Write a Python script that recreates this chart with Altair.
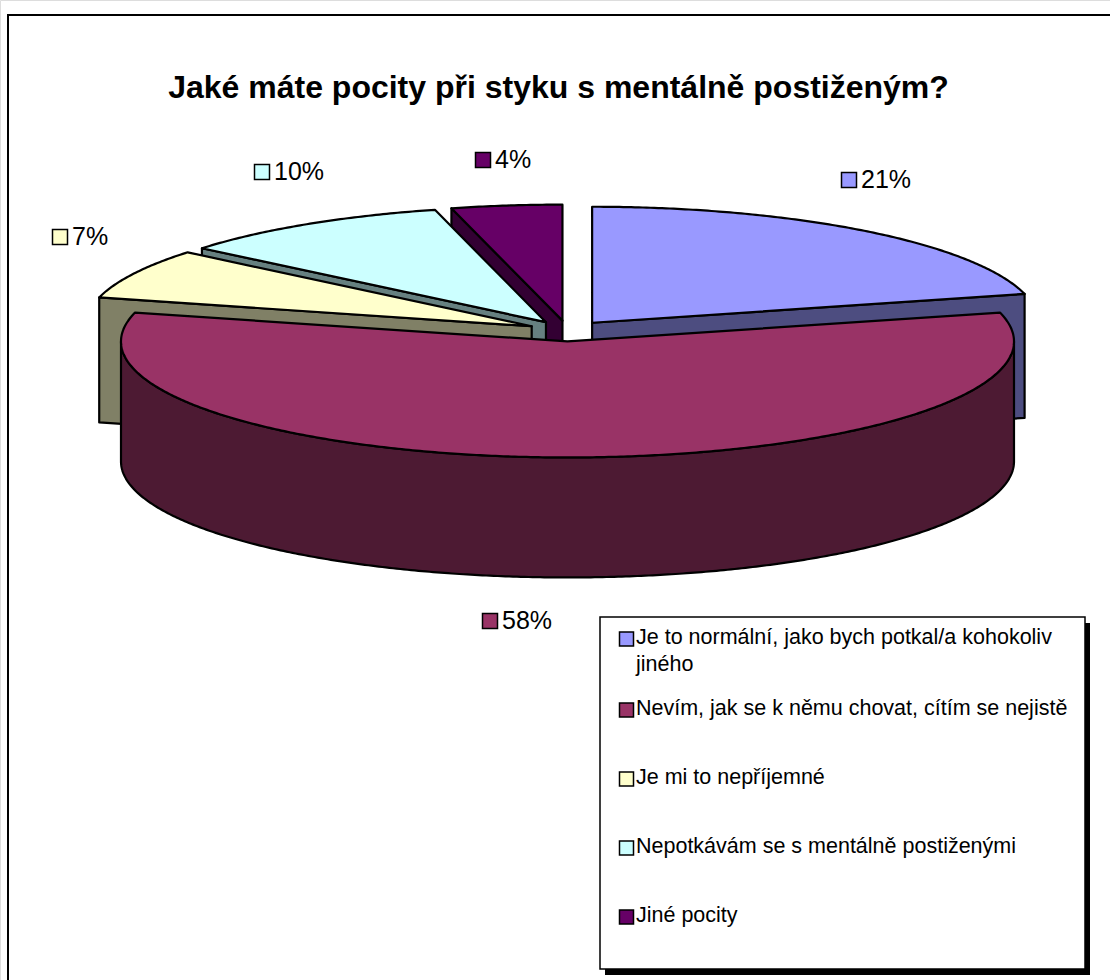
import math
import altair as alt

# Survey answers and their shares, in clockwise order from twelve o'clock
answers = [
    ["Je to normální, jako bych potkal/a kohokoliv", "jiného"],
    ["Nevím, jak se k němu chovat, cítím se nejistě"],
    ["Je mi to nepříjemné"],
    ["Nepotkávám se s mentálně postiženými"],
    ["Jiné pocity"],
]
shares = [21, 58, 7, 10, 4]
top_colors = ["#9999FF", "#993366", "#FFFFCC", "#CCFFFF", "#660066"]
side_colors = ["#4D4D80", "#4D1A33", "#808066", "#668080", "#330033"]
title_text = "Jaké máte pocity při styku s mentálně postiženým?"

# Layout of the tilted pie, in canvas pixels
CANVAS_W, CANVAS_H = 1110, 980
CX, CY = 567.5, 331.0
RX, RY = 446.5, 116.0
EXPLODE = 0.09
wall_depths = [124, 120, 125, 124, 124]

# Anchor of each percentage label (swatch centre)
label_anchor_x = [849, 490, 60, 262, 483]
label_anchor_y = [180, 621, 237, 172, 160]

# Legend layout
LEG_X0, LEG_X1, LEG_Y0, LEG_Y1 = 600, 1085, 617, 969
legend_rows_y = [638, 709, 778, 847, 916]
LEG_LINE = 27


def ellipse(cx, cy, deg):
    a = math.radians(deg)
    return [cx + RX * math.sin(a), cy - RY * math.cos(a)]


def feature(ring, fill):
    ring = [list(p) for p in ring]
    ring.append(ring[0])
    return {
        "type": "Feature",
        "properties": {"fill": fill},
        "geometry": {"type": "Polygon", "coordinates": [ring]},
    }


def arc_points(cx, cy, start, end, dy=0.0):
    n = max(2, int(abs(end - start) * 2))
    return [
        [p[0], p[1] + dy]
        for p in (ellipse(cx, cy, start + (end - start) * i / n) for i in range(n + 1))
    ]


# Build wall and top polygons for every slice from its share
slices = []
angle = 0.0
for i, share in enumerate(shares):
    sweep = share * 3.6
    start, end = angle, angle + sweep
    angle = end
    mid = math.radians((start + end) / 2)
    cx = CX + EXPLODE * RX * math.sin(mid)
    cy = CY - EXPLODE * RY * math.cos(mid)
    depth = wall_depths[i]
    polys = []
    # radial wall turned toward the viewer
    if end <= 180:
        edge = ellipse(cx, cy, end)
        polys.append(feature([[cx, cy], edge, [edge[0], edge[1] + depth], [cx, cy + depth]], side_colors[i]))
    elif start >= 180:
        edge = ellipse(cx, cy, start)
        polys.append(feature([[cx, cy], edge, [edge[0], edge[1] + depth], [cx, cy + depth]], side_colors[i]))
    # outer rim wall over the near half of the ellipse
    lo, hi = max(start, 90), min(end, 270)
    if lo < hi:
        rim = arc_points(cx, cy, lo, hi) + arc_points(cx, cy, hi, lo, depth)
        polys.append(feature(rim, side_colors[i]))
    # top face
    polys.append(feature([[cx, cy]] + arc_points(cx, cy, start, end), top_colors[i]))
    slices.append((math.cos(mid), polys))

# Far slices first so nearer ones overlap them
features = []
for _, polys in sorted(slices, key=lambda s: -s[0]):
    features.extend(polys)

x_scale = alt.Scale(domain=[0, CANVAS_W], range=[0, CANVAS_W])
y_scale = alt.Scale(domain=[0, CANVAS_H], range=[0, CANVAS_H])
X = lambda f: alt.X(f, type="quantitative", scale=x_scale, axis=None)
Y = lambda f: alt.Y(f, type="quantitative", scale=y_scale, axis=None)
FONT = "Liberation Sans"


def box(x0, x1, y0, y1, **mark):
    return (
        alt.Chart(alt.Data(values=[{"x0": x0, "x1": x1, "y0": y0, "y1": y1}]))
        .mark_rect(**mark)
        .encode(x=X("x0"), x2="x1", y=Y("y0"), y2="y1")
    )


# The outer frame runs past the right and bottom edges of the canvas
frame = box(8, CANVAS_W + 20, 15, CANVAS_H + 20, fill="white", stroke="black", strokeWidth=2)

pie = (
    alt.Chart(alt.Data(values=features))
    .mark_geoshape(stroke="black", strokeWidth=2.2, strokeJoin="round")
    .encode(fill=alt.Fill("properties.fill:N", scale=None))
    .project(type="identity", scale=1, translate=[0, 0])
)

title = (
    alt.Chart(alt.Data(values=[{"x": 558.5, "y": 88, "t": title_text}]))
    .mark_text(font=FONT, fontSize=32, fontWeight="bold", baseline="middle", align="center", color="black")
    .encode(x=X("x"), y=Y("y"), text="t:N")
)

label_rows = [
    {"x": label_anchor_x[i], "y": label_anchor_y[i], "fill": top_colors[i], "t": f"{shares[i]}%"}
    for i in range(len(shares))
]
label_swatches = (
    alt.Chart(alt.Data(values=label_rows))
    .mark_square(size=225, stroke="black", strokeWidth=1.5, opacity=1)
    .encode(x=X("x"), y=Y("y"), fill=alt.Fill("fill:N", scale=None))
)
label_texts = (
    alt.Chart(alt.Data(values=label_rows))
    .mark_text(font=FONT, fontSize=25, align="left", baseline="middle", dx=12, color="black")
    .encode(x=X("x"), y=Y("y"), text="t:N")
)

legend_shadow = box(LEG_X0 + 5, LEG_X1 + 5, LEG_Y0 + 6, LEG_Y1 + 6, fill="black")
legend_box = box(LEG_X0, LEG_X1, LEG_Y0, LEG_Y1, fill="white", stroke="black", strokeWidth=1.5)

legend_keys = [
    {"x": 626.5, "y": legend_rows_y[i] + 1, "fill": top_colors[i]} for i in range(len(shares))
]
legend_swatches = (
    alt.Chart(alt.Data(values=legend_keys))
    .mark_square(size=196, stroke="black", strokeWidth=1.5, opacity=1)
    .encode(x=X("x"), y=Y("y"), fill=alt.Fill("fill:N", scale=None))
)
legend_lines = [
    {"x": 636, "y": legend_rows_y[i] + j * LEG_LINE, "t": line}
    for i, lines in enumerate(answers)
    for j, line in enumerate(lines)
]
legend_texts = (
    alt.Chart(alt.Data(values=legend_lines))
    .mark_text(font=FONT, fontSize=21.5, align="left", baseline="middle", color="black")
    .encode(x=X("x"), y=Y("y"), text="t:N")
)

chart = (
    alt.layer(
        frame, pie, title, label_swatches, label_texts,
        legend_shadow, legend_box, legend_swatches, legend_texts,
    )
    .resolve_scale(x="shared", y="shared")
    .properties(width=CANVAS_W, height=CANVAS_H, padding=0, autosize=alt.AutoSizeParams(type="none"))
    .configure_view(stroke=None)
    .configure(background="white")
)

chart.save("out.html", embed_options={"renderer": "svg", "actions": False})
